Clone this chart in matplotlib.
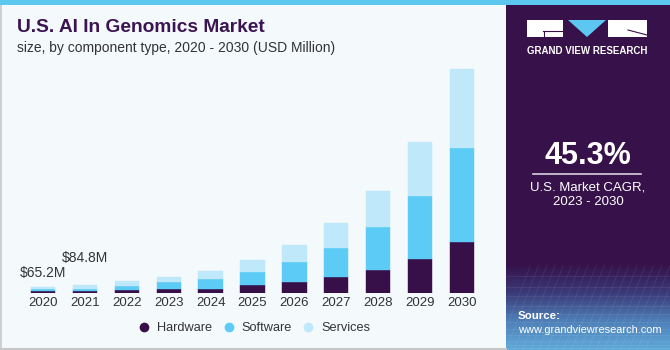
import matplotlib
matplotlib.use("Agg")
import matplotlib.pyplot as plt
import numpy as np
from matplotlib.patches import Rectangle, Polygon
from matplotlib.lines import Line2D
from matplotlib.colors import LinearSegmentedColormap

plt.rcParams['font.family'] = ['Liberation Sans', 'DejaVu Sans']

years = ["2020", "2021", "2022", "2023", "2024", "2025", "2026", "2027", "2028", "2029", "2030"]
hardware = [25, 25, 32, 42, 48, 84, 116, 174, 248, 360, 539]
software = [19, 25, 42, 74, 101, 143, 216, 301, 448, 665, 990]
services = [21.2, 34.8, 56, 52, 88, 123, 175, 259, 378, 561, 823]
series_names = ["Hardware", "Software", "Services"]
annot_labels = ["$65.2M", "$84.8M"]

C_HW = "#37104a"
C_SW = "#5ccbf6"
C_SV = "#bfe9fa"
BG = "#f4f9fc"
PURPLE = "#36114a"

W, H = 670, 350
fig = plt.figure(figsize=(W / 100, H / 100), dpi=100)
fig.patch.set_facecolor("white")

def fx(x):
    return x / W

def fy(y):
    return 1 - y / H

# left panel background
fig.patches.append(Rectangle((0, 0), 1, 1, transform=fig.transFigure, facecolor=BG,
                             edgecolor="none", zorder=-10))
fig.add_artist(Line2D([fx(1), fx(1)], [fy(5), fy(348)], color="#c8c8c8", lw=1.2, transform=fig.transFigure))
fig.add_artist(Line2D([0, fx(506)], [fy(348.5), fy(348.5)], color="#c8c8c8", lw=1.5, transform=fig.transFigure))

# right purple panel
fig.patches.append(Rectangle((fx(506), 0), 1 - fx(506), 1, transform=fig.transFigure,
                             facecolor=PURPLE, edgecolor="none", zorder=-9))
gax = fig.add_axes([fx(506), 0, 1 - fx(506), fy(265)], zorder=-5)
grad = np.linspace(0, 1, 100)[:, None]
cmap = LinearSegmentedColormap.from_list("g", [PURPLE, "#3a3a78", "#4f7fb8", "#5fa9d8"])
gax.imshow(grad, aspect="auto", cmap=cmap, extent=[0, 1, 0, 1], origin="upper")
for i in range(1, 20):
    gax.plot([i / 20 - 0.1, i / 20 + 0.1], [0, 1], color="white", alpha=0.08, lw=0.6)
for j in range(1, 12):
    yv = (j / 12) ** 1.6
    gax.plot([0, 1], [yv, yv], color="white", alpha=0.08, lw=0.6)
gax.set_xlim(0, 1)
gax.set_ylim(0, 1)
gax.axis("off")

# top stripe
fig.patches.append(Rectangle((0, fy(5)), 1, fy(0) - fy(5), transform=fig.transFigure,
                             facecolor="#5cc8ef", edgecolor="none", zorder=5))

# main axes
x0, x1 = 22, 483
ytop, ybase = 60, 293.3
ax = fig.add_axes([fx(x0), fy(ybase), fx(x1) - fx(x0), fy(ytop) - fy(ybase)])
ax.set_facecolor("none")
x = np.arange(len(years))
hw = np.array(hardware)
sw = np.array(software)
sv = np.array(services)
bw = 0.58
ax.bar(x, hw, bw, color=C_HW, edgecolor=C_HW, linewidth=0.3)
ax.bar(x, sw, bw, bottom=hw, color=C_SW, edgecolor=C_SW, linewidth=0.3)
ax.bar(x, sv, bw, bottom=hw + sw, color=C_SV, edgecolor=C_SV, linewidth=0.3)
ymax = (ybase - ytop) * 10.5
ax.set_xlim(-0.5, 10.5)
ax.set_ylim(0, ymax)
ax.set_xticks(x)
ax.set_xticklabels(years, fontsize=9.5, color="#333333")
ax.tick_params(axis="x", length=0, pad=3)
ax.set_yticks([])
for s in ax.spines.values():
    s.set_visible(False)

totals = hw + sw + sv
ax.annotate(annot_labels[0], (0, totals[0]), xytext=(0, 5), textcoords="offset points",
            ha="center", va="bottom", fontsize=10, color="#333333")
ax.annotate(annot_labels[1], (1, totals[1]), xytext=(0, 14.5), textcoords="offset points",
            ha="center", va="bottom", fontsize=10, color="#333333")

handles = [Line2D([], [], marker="o", linestyle="none", markersize=7, markerfacecolor=c,
                  markeredgecolor="none") for c in (C_HW, C_SW, C_SV)]
ax.legend(handles, series_names, loc="center",
          bbox_to_anchor=((fx(254) - fx(x0)) / (fx(x1) - fx(x0)), (fy(328) - fy(ybase)) / (fy(ytop) - fy(ybase))),
          bbox_transform=ax.transAxes, ncol=3, frameon=False, fontsize=9.2,
          handlelength=1.0, handletextpad=0.5, columnspacing=0.8, labelcolor="#333333")

# titles
fig.text(fx(17), fy(28), "U.S. AI In Genomics Market", fontsize=13.8, fontweight="bold",
         color="#3b1452", ha="left", va="center")
fig.text(fx(17), fy(48), "size, by component type, 2020 - 2030 (USD Million)", fontsize=10,
         color="#333333", ha="left", va="center")

# logo
fig.patches.append(Rectangle((fx(527), fy(37)), fx(563) - fx(527), fy(20) - fy(37),
                             transform=fig.transFigure, facecolor="white", edgecolor="none", zorder=6))
fig.patches.append(Rectangle((fx(608), fy(37)), fx(647) - fx(608), fy(20) - fy(37),
                             transform=fig.transFigure, facecolor="white", edgecolor="none", zorder=6))
fig.patches.append(Polygon([(fx(568), fy(20)), (fx(606), fy(20)), (fx(587), fy(37))],
                           closed=True, transform=fig.transFigure, facecolor="#5cc8f2",
                           edgecolor="none", zorder=6))
fig.add_artist(Line2D([fx(543), fx(563)], [fy(31), fy(31)], color=PURPLE, lw=0.8,
                      transform=fig.transFigure, zorder=7))
fig.add_artist(Line2D([fx(544), fx(544)], [fy(31), fy(37)], color=PURPLE, lw=0.8,
                      transform=fig.transFigure, zorder=7))
fig.add_artist(Line2D([fx(628), fx(647)], [fy(30), fy(35)], color=PURPLE, lw=0.8,
                      transform=fig.transFigure, zorder=7))
fig.text(fx(587), fy(50.5), "GRAND VIEW RESEARCH", fontsize=7.0, fontweight="bold",
         color="white", ha="center", va="center")

# CAGR block
fig.text(fx(588), fy(156), "45.3%", fontsize=22, fontweight="bold", color="white",
         ha="center", va="center")
fig.add_artist(Line2D([fx(533), fx(641)], [fy(173.5), fy(173.5)], color="#d8d0e0", lw=1.2,
                      transform=fig.transFigure))
fig.text(fx(588), fy(187), "U.S. Market CAGR,", fontsize=9.5, color="white", ha="center", va="center")
fig.text(fx(588), fy(202), "2023 - 2030", fontsize=9.5, color="white", ha="center", va="center")

fig.text(fx(518), fy(316), "Source:", fontsize=8.2, fontweight="bold", color="white",
         ha="left", va="center")
fig.text(fx(518), fy(330), "www.grandviewresearch.com", fontsize=7.9, color="white",
         ha="left", va="center")

fig.savefig("out.png", dpi=100, facecolor=fig.get_facecolor())
